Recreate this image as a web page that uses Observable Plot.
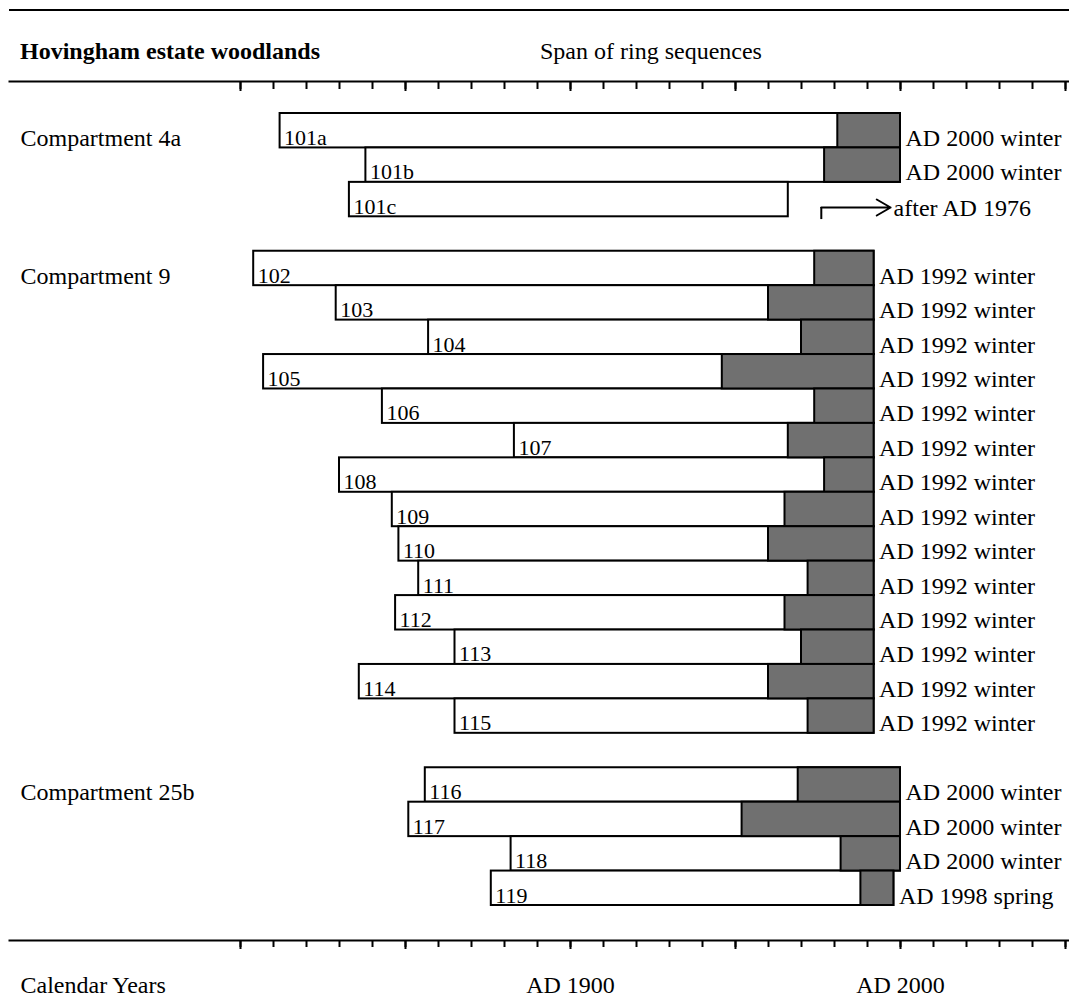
<!DOCTYPE html>
<html><head><meta charset="utf-8">
<script src="https://cdn.jsdelivr.net/npm/d3@7"></script>
<script src="https://cdn.jsdelivr.net/npm/@observablehq/plot@0.6"></script>
<style>
html,body{margin:0;padding:0;background:#fff;}
body{width:1069px;height:1008px;overflow:hidden;font-family:"Liberation Serif","Times New Roman",serif;color:#000;}
#header{position:relative;height:80px;width:1069px;}
#header .rule{position:absolute;top:9px;left:9px;right:0;height:2px;background:#000;}
#header .t{position:absolute;top:39px;font-size:24px;line-height:24px;white-space:nowrap;}
#chart svg{display:block;}
</style></head><body>
<div id="header"><div class="rule"></div><div class="t" style="left:20px;font-weight:bold">Hovingham estate woodlands</div><div class="t" style="left:540px">Span of ring sequences</div></div>
<div id="chart"></div>
<script>
// ---- data ----
const compartments = ["Compartment 4a", "Compartment 9", "Compartment 25b"];
const compartmentSamples = [
  ["101a", "101b", "101c"],
  ["102", "103", "104", "105", "106", "107", "108", "109", "110", "111", "112", "113", "114", "115"],
  ["116", "117", "118", "119"]
];
const samples = ["101a","101b","101c","102","103","104","105","106","107","108","109","110","111","112","113","114","115","116","117","118","119"];
const firstRing = [1812,1838,1833,1804,1829,1857,1807,1843,1883,1830,1846,1848,1854,1847,1865,1836,1865,1856,1851,1882,1876];
const sapwoodStart = [1981,1977,null,1974,1960,1970,1946,1974,1966,1977,1965,1960,1972,1965,1970,1960,1972,1969,1952,1982,1988];
const lastRing = [2000,2000,1966,1992,1992,1992,1992,1992,1992,1992,1992,1992,1992,1992,1992,1992,1992,2000,2000,2000,1998];
const fellingLabels = ["AD 2000 winter","AD 2000 winter","after AD 1976","AD 1992 winter","AD 1992 winter","AD 1992 winter","AD 1992 winter","AD 1992 winter","AD 1992 winter","AD 1992 winter","AD 1992 winter","AD 1992 winter","AD 1992 winter","AD 1992 winter","AD 1992 winter","AD 1992 winter","AD 1992 winter","AD 2000 winter","AD 2000 winter","AD 2000 winter","AD 1998 spring"];
const terminusSample = "101c";
const terminusYear = 1976;
const tickYears = [1800,1810,1820,1830,1840,1850,1860,1870,1880,1890,1900,1910,1920,1930,1940,1950,1960,1970,1980,1990,2000,2010,2020,2030,2040,2050];
const majorTickYears = [1800,1850,1900,1950,2000,2050];
const labelYears = [1900, 2000];
const axisTitle = "Calendar Years";

// ---- table: one row slot per sample, one blank slot between compartments ----
const rowOf = new Map();
const groupRows = [];
let slot = 0;
compartmentSamples.forEach((list, g) => {
  groupRows.push({name: compartments[g], row: slot});
  list.forEach(s => rowOf.set(s, slot++));
  slot++;
});
const nSlots = slot - 1;
const table = samples.map((s, i) => ({
  sample: s, row: rowOf.get(s), start: firstRing[i], sap: sapwoodStart[i], end: lastRing[i], label: fellingLabels[i]
}));
const withSap = table.filter(d => d.sap != null);
const tpq = table.filter(d => d.sample === terminusSample).map(d => ({...d, year: terminusYear}));
const arrowYears = 21;

const font = "'Liberation Serif','Times New Roman',serif";
const plot = Plot.plot({
  width: 1069,
  height: 928,
  marginTop: 1,
  marginBottom: 68,
  marginLeft: 9,
  marginRight: 0,
  style: {fontFamily: font, fontSize: "24px", background: "white", color: "black", overflow: "visible"},
  x: {domain: [1800, 2050], range: [240, 1065]},
  y: {domain: [0, nSlots], range: [33, 825], axis: null},
  marks: [
    Plot.frame({anchor: "top", strokeWidth: 2}),
    Plot.frame({anchor: "bottom", strokeWidth: 2}),
    Plot.axisX({anchor: "top", ticks: tickYears, tickSize: 7, dy: 7, tickFormat: () => "", label: null, strokeWidth: 2}),
    Plot.axisX({anchor: "top", ticks: majorTickYears, tickSize: 9, dy: 9, tickFormat: () => "", label: null, strokeWidth: 2}),
    Plot.axisX({anchor: "bottom", ticks: tickYears, tickSize: 7, tickFormat: () => "", label: null, strokeWidth: 2}),
    Plot.axisX({anchor: "bottom", ticks: majorTickYears, tickSize: 9, tickFormat: () => "", label: null, strokeWidth: 2}),
    Plot.axisX({anchor: "bottom", ticks: labelYears, tickSize: 0, tickPadding: 35, tickFormat: d => "AD " + d, label: null, fontSize: 24}),
    Plot.text([axisTitle], {frameAnchor: "bottom-left", dx: 11, dy: 52, lineAnchor: "bottom", textAnchor: "start", fontSize: 24}),
    Plot.rect(table, {x1: "start", x2: "end", y1: "row", y2: d => d.row + 1, fill: "white", stroke: "black", strokeWidth: 2}),
    Plot.rect(withSap, {x1: "sap", x2: "end", y1: "row", y2: d => d.row + 1, fill: "#707070", stroke: "black", strokeWidth: 2}),
    Plot.text(table, {x: "start", y: d => d.row + 1, text: "sample", textAnchor: "start", lineAnchor: "bottom", dx: 4, dy: -3, fontSize: 22}),
    Plot.text(withSap, {x: "end", y: d => d.row + 1, text: "label", textAnchor: "start", lineAnchor: "bottom", dx: 5, dy: -2, fontSize: 24}),
    Plot.ruleX(tpq, {x: "year", y1: d => d.row + 0.73, y2: d => d.row + 1.08, strokeWidth: 2}),
    Plot.arrow(tpq, {x1: "year", x2: d => d.year + arrowYears, y1: d => d.row + 0.73, y2: d => d.row + 0.73, strokeWidth: 2, headLength: 12, stroke: "black"}),
    Plot.text(tpq, {x: d => d.year + arrowYears, y: d => d.row + 1, text: "label", textAnchor: "start", lineAnchor: "bottom", dx: 3, dy: -1, fontSize: 24}),
    Plot.text(groupRows, {frameAnchor: "left", y: d => d.row + 1, text: "name", textAnchor: "start", lineAnchor: "bottom", dx: 11, dy: -2, fontSize: 24})
  ]
});
document.getElementById("chart").appendChild(plot);
</script>
</body></html>
